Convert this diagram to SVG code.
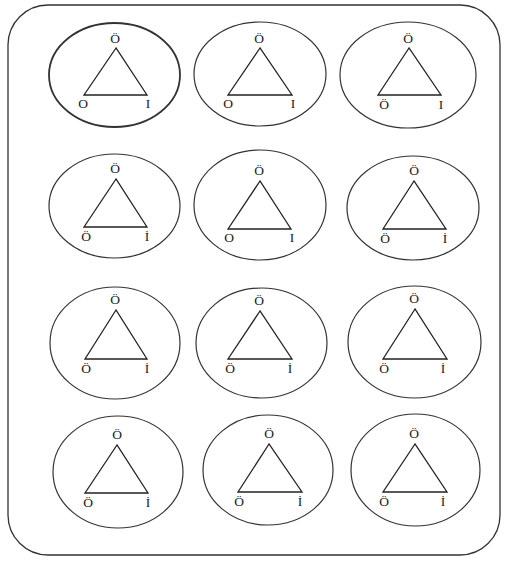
<svg xmlns="http://www.w3.org/2000/svg" width="510" height="562" viewBox="0 0 510 562">
<style>
.frame{fill:#fff;stroke:#333;stroke-width:1.3}
.ell{fill:none;stroke:#333;stroke-width:1.2}
.tri{fill:none;stroke:#222;stroke-width:1.3;stroke-linejoin:miter}
.lbl{font-family:"Liberation Serif","DejaVu Serif",serif;font-size:13.5px;fill:#222;text-anchor:middle}
</style>
<rect width="510" height="562" fill="#fff"/>
<rect class="frame" x="8" y="5" width="492" height="550" rx="40" ry="40"/>
<g id="n1"><ellipse class="ell" cx="114.5" cy="75" rx="65.5" ry="52" style="stroke-width:1.8"/><polygon class="tri" points="116,48 84,95 147,95"/><text class="lbl" x="115" y="43">Ö</text><text class="lbl" x="83" y="108">O</text><text class="lbl" x="148" y="108">I</text></g>
<g id="n2"><ellipse class="ell" cx="260" cy="74" rx="66" ry="52"/><polygon class="tri" points="260,48 228,95 292,95"/><text class="lbl" x="259" y="43">Ö</text><text class="lbl" x="228" y="108">O</text><text class="lbl" x="293" y="108">I</text></g>
<g id="n3"><ellipse class="ell" cx="408" cy="75" rx="68" ry="53"/><polygon class="tri" points="409,48 378,95 441,95"/><text class="lbl" x="408" y="43">Ö</text><text class="lbl" x="384" y="109">Ö</text><text class="lbl" x="441" y="109">I</text></g>
<g id="n4"><ellipse class="ell" cx="114.5" cy="206" rx="65.5" ry="52"/><polygon class="tri" points="116,179 84,227 147,227"/><text class="lbl" x="115" y="173">Ö</text><text class="lbl" x="86" y="241">Ö</text><text class="lbl" x="147" y="241">İ</text></g>
<g id="n5"><ellipse class="ell" cx="260" cy="205" rx="66" ry="55"/><polygon class="tri" points="260,181 228,229 291,229"/><text class="lbl" x="259" y="175">Ö</text><text class="lbl" x="229" y="242">O</text><text class="lbl" x="292" y="242">I</text></g>
<g id="n6"><ellipse class="ell" cx="413" cy="208" rx="66" ry="52"/><polygon class="tri" points="414,181 383,229 446,229"/><text class="lbl" x="414" y="175">Ö</text><text class="lbl" x="385" y="243">Ö</text><text class="lbl" x="445" y="243">İ</text></g>
<g id="n7"><ellipse class="ell" cx="115" cy="343" rx="65" ry="56"/><polygon class="tri" points="116,310 85,359 147,359"/><text class="lbl" x="115" y="304">Ö</text><text class="lbl" x="86" y="373">Ö</text><text class="lbl" x="147" y="373">İ</text></g>
<g id="n8"><ellipse class="ell" cx="261.5" cy="343" rx="65.5" ry="55"/><polygon class="tri" points="260,311 228,359 292,359"/><text class="lbl" x="259" y="305">Ö</text><text class="lbl" x="230" y="373">Ö</text><text class="lbl" x="290" y="373">İ</text></g>
<g id="n9"><ellipse class="ell" cx="414.5" cy="342" rx="66.5" ry="56"/><polygon class="tri" points="415,309 383,359 447,359"/><text class="lbl" x="414" y="303">Ö</text><text class="lbl" x="384" y="373">Ö</text><text class="lbl" x="443" y="373">İ</text></g>
<g id="n10"><ellipse class="ell" cx="118" cy="472" rx="65" ry="56"/><polygon class="tri" points="117,445 85,493 148,493"/><text class="lbl" x="117" y="439">Ö</text><text class="lbl" x="88" y="507">Ö</text><text class="lbl" x="148" y="507">İ</text></g>
<g id="n11"><ellipse class="ell" cx="268" cy="470" rx="65" ry="55"/><polygon class="tri" points="269,444 238,492 302,492"/><text class="lbl" x="269" y="438">Ö</text><text class="lbl" x="239" y="506">Ö</text><text class="lbl" x="300" y="506">İ</text></g>
<g id="n12"><ellipse class="ell" cx="415.5" cy="470" rx="64.5" ry="56"/><polygon class="tri" points="415,444 383,492 447,492"/><text class="lbl" x="414" y="438">Ö</text><text class="lbl" x="384" y="506">Ö</text><text class="lbl" x="443" y="506">İ</text></g>
<g id="connectors"></g>
</svg>
